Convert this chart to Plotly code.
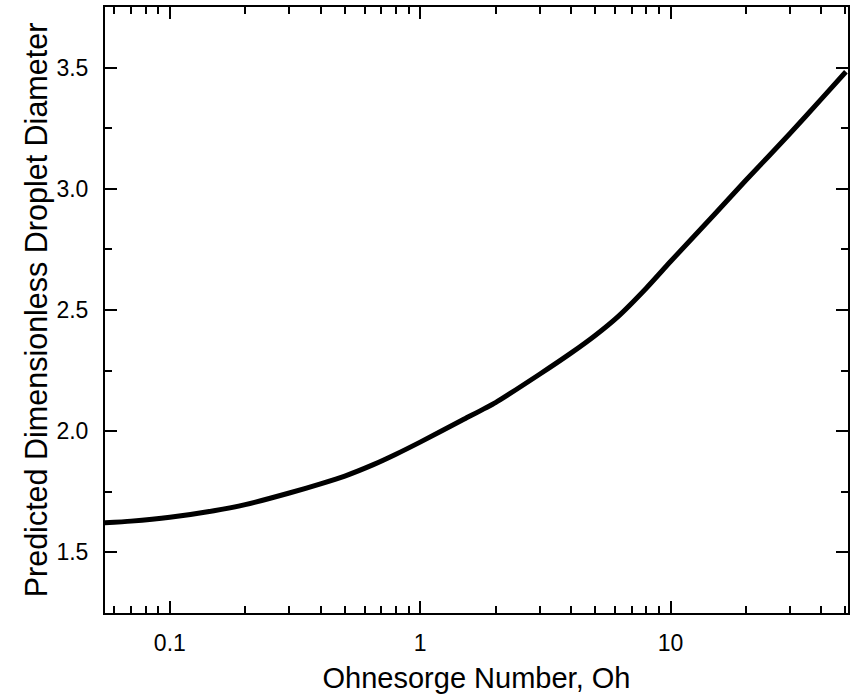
import plotly.graph_objects as go

# Data
ohnesorge = [0.055, 0.07, 0.1, 0.15, 0.2, 0.3, 0.4, 0.5, 0.65, 0.8, 1.0, 1.5, 2.0,
             3.0, 4.0, 5.0, 6.2, 8.0, 10.0, 15.0, 20.0, 30.0, 40.0, 50.2]
diameter = [1.622, 1.629, 1.645, 1.672, 1.697, 1.745, 1.783, 1.815, 1.862, 1.905, 1.955, 2.050, 2.118,
            2.235, 2.322, 2.395, 2.475, 2.590, 2.700, 2.895, 3.035, 3.228, 3.370, 3.483]

x_major = [0.1, 1, 10]
x_major_text = ["0.1", "1", "10"]
x_minor = [0.06, 0.07, 0.08, 0.09,
           0.2, 0.3, 0.4, 0.5, 0.6, 0.7, 0.8, 0.9,
           2, 3, 4, 5, 6, 7, 8, 9,
           20, 30, 40, 50]
y_major = [1.5, 2.0, 2.5, 3.0, 3.5]
y_major_text = ["1.5", "2.0", "2.5", "3.0", "3.5"]

FONT = "Liberation Sans, Arial, sans-serif"

fig = go.Figure()
fig.add_trace(go.Scatter(
    x=ohnesorge, y=diameter, mode="lines",
    line=dict(color="black", width=5, shape="spline", smoothing=0.6),
    showlegend=False, hoverinfo="x+y",
))

fig.update_layout(
    width=850, height=700,
    margin=dict(l=105, r=0, t=7, b=87),
    paper_bgcolor="white", plot_bgcolor="white",
    font=dict(family=FONT, color="black"),
)

fig.update_xaxes(
    type="log", range=[-1.259, 1.709],
    tickmode="array", tickvals=x_major, ticktext=x_major_text,
    ticks="inside", ticklen=12, tickwidth=2, tickcolor="black",
    minor=dict(tickmode="array", tickvals=x_minor, ticks="inside",
               ticklen=7, tickwidth=2, tickcolor="black", showgrid=False),
    showline=True, linewidth=2, linecolor="black", mirror="ticks",
    showgrid=False, zeroline=False,
    tickfont=dict(size=23, family=FONT, color="black"),
    ticklabelstandoff=8,
    title=dict(text="Ohnesorge Number, Oh", font=dict(size=29, family=FONT, color="black"), standoff=13),
)

fig.update_yaxes(
    range=[1.25, 3.75],
    tickmode="array", tickvals=y_major, ticktext=y_major_text,
    ticks="inside", ticklen=12, tickwidth=2, tickcolor="black",
    minor=dict(dtick=0.25, ticks="inside", ticklen=7, tickwidth=2,
               tickcolor="black", showgrid=False),
    showline=True, linewidth=2, linecolor="black", mirror="ticks",
    showgrid=False, zeroline=False,
    tickfont=dict(size=23, family=FONT, color="black"),
    ticklabelstandoff=10,
    title=dict(text="Predicted Dimensionless Droplet Diameter", font=dict(size=30.5, family=FONT, color="black"), standoff=0),
)

fig.write_html("out.html")
